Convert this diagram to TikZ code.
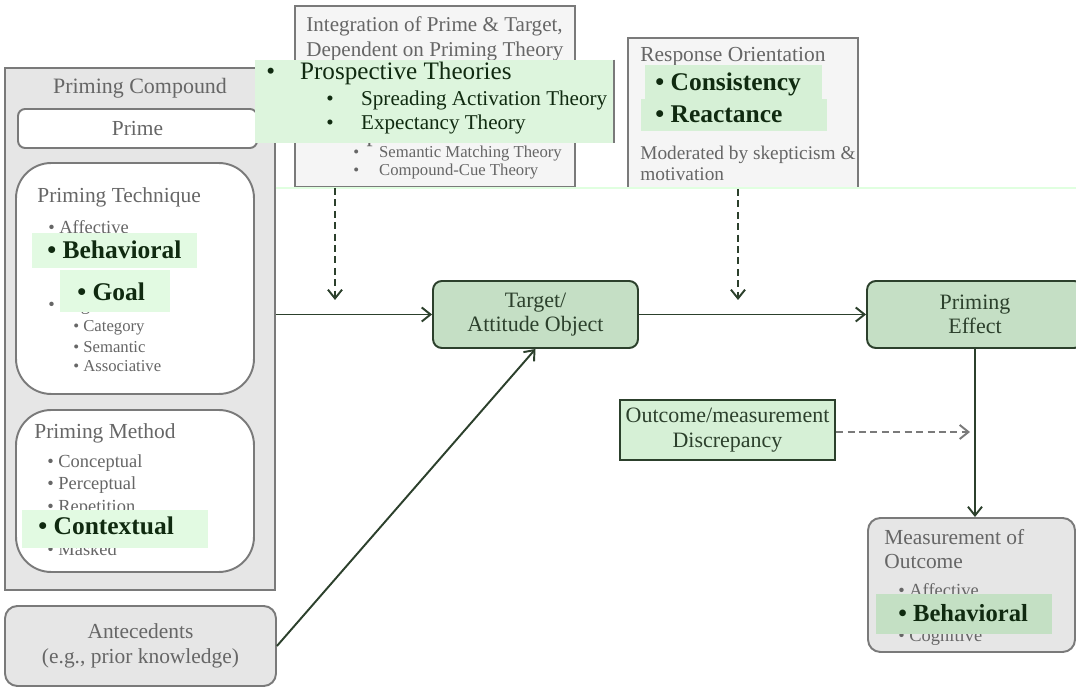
\documentclass[tikz,border=0pt]{standalone}
\usepackage{fontspec}
\setmainfont{Liberation Serif}
\usetikzlibrary{arrows.meta}

\definecolor{boxgray}{HTML}{E6E6E6}
\definecolor{palegray}{HTML}{F5F5F5}
\definecolor{framegray}{HTML}{7A7A7A}
\definecolor{textgray}{HTML}{666666}
\definecolor{nodegreen}{HTML}{C5DFC5}
\definecolor{lightgreen}{HTML}{D6F0D6}
\definecolor{hlgreen}{HTML}{DDF5DD}
\definecolor{palehl}{HTML}{E2FAE2}
\definecolor{darkhl}{HTML}{C4E0C4}
\definecolor{edgegreen}{HTML}{2C402C}
\definecolor{hltext}{HTML}{102A10}

\begin{document}
\begin{tikzpicture}[x=0.02cm, y=-0.02cm,
  graybox/.style={draw=framegray, fill=boxgray, line width=1.1pt},
  whitebox/.style={draw=framegray, fill=white, line width=1.1pt},
  paperbox/.style={draw=framegray, fill=palegray, line width=1.1pt},
  greenbox/.style={draw=edgegreen, fill=nodegreen, line width=1.1pt, rounded corners=5pt,
    align=center, text=edgegreen, font=\fontsize{12.5}{14}\selectfont},
  hlbox/.style={fill=#1, inner sep=0pt},
  head/.style={text=textgray, font=\fontsize{12.2}{14}\selectfont},
  item/.style={text=textgray, anchor=west, inner sep=0pt, font=\fontsize{10.5}{12}\selectfont},
  subitem/.style={text=textgray, anchor=west, inner sep=0pt, font=\fontsize{9.5}{11}\selectfont},
  hlitem/.style={text=hltext, anchor=west, inner sep=0pt, font=\bfseries\fontsize{14.5}{16}\selectfont},
  theory/.style={text=hltext, anchor=west, inner sep=0pt, font=\fontsize{#1}{16}\selectfont},
  link/.style={draw=edgegreen, line width=1.1pt, -{Straight Barb[length=5pt,width=8pt]}},
  modlink/.style={link, dash pattern=on 4pt off 2.5pt},
  graylink/.style={link, draw=framegray, dash pattern=on 4pt off 2.5pt}]
\useasboundingbox (0,0) rectangle (1076,688);
\clip (0,0) rectangle (1076,688);

% priming compound
\node[graybox, minimum width=5.4cm, minimum height=10.44cm] (compound) at (140,329) {};
\node[head, font=\fontsize{12.5}{14}\selectfont] (compoundtxt) at (140,88) {Priming Compound};
\node[whitebox, rounded corners=4pt, minimum width=4.78cm, minimum height=0.78cm, head] (prime) at (137.5,128.5) {Prime};

\node[whitebox, rounded corners=20pt, minimum width=4.76cm, minimum height=4.62cm] (technique) at (135,278.5) {};
\node[head, anchor=west, inner sep=0pt] (techtxt) at (37,197) {Priming Technique};
\node[item] (affect) at (48,227) {\textbullet\ Affective};
\node[item] (cognit) at (48,306) {\textbullet\ Cognitive:};
\node[subitem] (categ) at (73,328) {\textbullet\ Category};
\node[subitem] (seman) at (73,347) {\textbullet\ Semantic};
\node[subitem] (assoc) at (73,366) {\textbullet\ Associative};
\node[hlbox=palehl, minimum width=3.3cm, minimum height=0.7cm] (behavbg) at (114.5,250.5) {};
\node[hlitem] (behav) at (47,250) {\textbullet\ Behavioral};
\node[hlbox=palehl, minimum width=2.2cm, minimum height=0.84cm] (goalbg) at (115,291) {};
\node[hlitem] (goal) at (77,292) {\textbullet\ Goal};

\node[whitebox, rounded corners=20pt, minimum width=4.76cm, minimum height=3.24cm] (method) at (135,491) {};
\node[head, anchor=west, inner sep=0pt] (methodtxt) at (34,433) {Priming Method};
\node[item] (concep) at (47,463) {\textbullet\ Conceptual};
\node[item] (percep) at (47,485) {\textbullet\ Perceptual};
\node[item] (repet) at (47,508) {\textbullet\ Repetition};
\node[item] (masked) at (47,549) {\textbullet\ Masked};
\node[hlbox=palehl, minimum width=3.72cm, minimum height=0.76cm] (contextbg) at (115,529) {};
\node[hlitem] (context) at (38,526) {\textbullet\ Contextual};

\node[graybox, rounded corners=7pt, minimum width=5.42cm, minimum height=1.6cm, head, align=center] (antec) at (140.5,646) {Antecedents\\(e.g., prior knowledge)};

% integration of prime and target
\node[paperbox, minimum width=5.6cm, minimum height=3.62cm] (integ) at (435,96.5) {};
\node[head, anchor=west, inner sep=0pt, font=\fontsize{12}{14}\selectfont] (integtxt) at (306,26) {Integration of Prime \& Target,};
\node[head, anchor=west, inner sep=0pt, font=\fontsize{12}{14}\selectfont] (dependtxt) at (306,51) {Dependent on Priming Theory};
\node[theory=14, text=textgray] (retro) at (302,136) {Retrospective Theories};
\node[subitem] (matching) at (353,154) {\textbullet\hspace{0.4cm}Semantic Matching Theory};
\node[subitem] (compcue) at (353,172) {\textbullet\hspace{0.4cm}Compound-Cue Theory};
\node[hlbox=hlgreen, minimum width=7.18cm, minimum height=1.66cm] (prospbg) at (434.5,101.5) {};
\draw[framegray, line width=1pt] (prospbg.north east) -- (prospbg.south east);
\node[theory=14.3] (prosp) at (266,73) {\textbullet\hspace{0.5cm}Prospective Theories};
\node[theory=12] (spread) at (326,100) {\textbullet\hspace{0.55cm}Spreading Activation Theory};
\node[theory=12] (expect) at (326,124) {\textbullet\hspace{0.55cm}Expectancy Theory};

% response orientation
\node[paperbox, minimum width=4.6cm, minimum height=3.0cm] (resp) at (743,113) {};
\node[head, anchor=west, inner sep=0pt] (resptxt) at (640,57) {Response Orientation};
\node[hlbox=lightgreen, minimum width=3.54cm, minimum height=0.68cm] (consistbg) at (733.5,82) {};
\node[hlbox=lightgreen, minimum width=3.72cm, minimum height=0.64cm] (reactbg) at (734,115) {};
\node[hlitem] (consist) at (655,84) {\textbullet\ Consistency};
\node[hlitem] (react) at (655,114) {\textbullet\ Reactance};
\node[head, anchor=west, inner sep=0pt, font=\fontsize{11}{13}\selectfont] (modtxt) at (640,155) {Moderated by skepticism \&};
\node[head, anchor=west, inner sep=0pt, font=\fontsize{11}{13}\selectfont] (motivtxt) at (640,174) {motivation};
\draw[green!12, line width=1pt] (compound.east |- 0,188) -- (1076,188);

% main path
\node[greenbox, minimum width=4.1cm, minimum height=1.34cm] (target) at (535.5,314.5) {Target/\\Attitude Object};
\node[greenbox, minimum width=4.32cm, minimum height=1.34cm] (effect) at (975,314.5) {Priming\\Effect};
\node[greenbox, rounded corners=0pt, fill=lightgreen, minimum width=4.3cm, minimum height=1.2cm] (outcome) at (727.5,430) {Outcome/measurement\\Discrepancy};

\node[graybox, rounded corners=7pt, minimum width=4.14cm, minimum height=2.68cm] (measure) at (971.5,585) {};
\node[head, anchor=west, inner sep=0pt] (meastxt) at (884,537) {Measurement of};
\node[head, anchor=west, inner sep=0pt] (outctxt) at (884,562) {Outcome};
\node[item] (maffect) at (898,590) {\textbullet\ Affective};
\node[item] (mcognit) at (898,637) {\textbullet\ Cognitive};
\node[hlbox=darkhl, minimum width=3.52cm, minimum height=0.8cm] (mbehavbg) at (964,614) {};
\node[hlitem, font=\bfseries\fontsize{14}{16}\selectfont] (mbehav) at (898,613) {\textbullet\ Behavioral};

\coordinate (inttip) at (335,300);
\coordinate (resptip) at (738,300);
\coordinate (outtip) at (970,432);

\draw[link] (compound.east |- target.west) -- (target.west);
\draw[link] (target.east) -- (effect.west);
\draw[link] (antec.east) -- (target.south);
\draw[link] (effect.south) -- (effect.south |- measure.north);
\draw[modlink] (integ.south -| inttip) -- (inttip);
\draw[modlink] (resp.south -| resptip) -- (resptip);
\draw[graylink] (outcome.east |- outtip) -- (outtip);
\end{tikzpicture}
\end{document}
